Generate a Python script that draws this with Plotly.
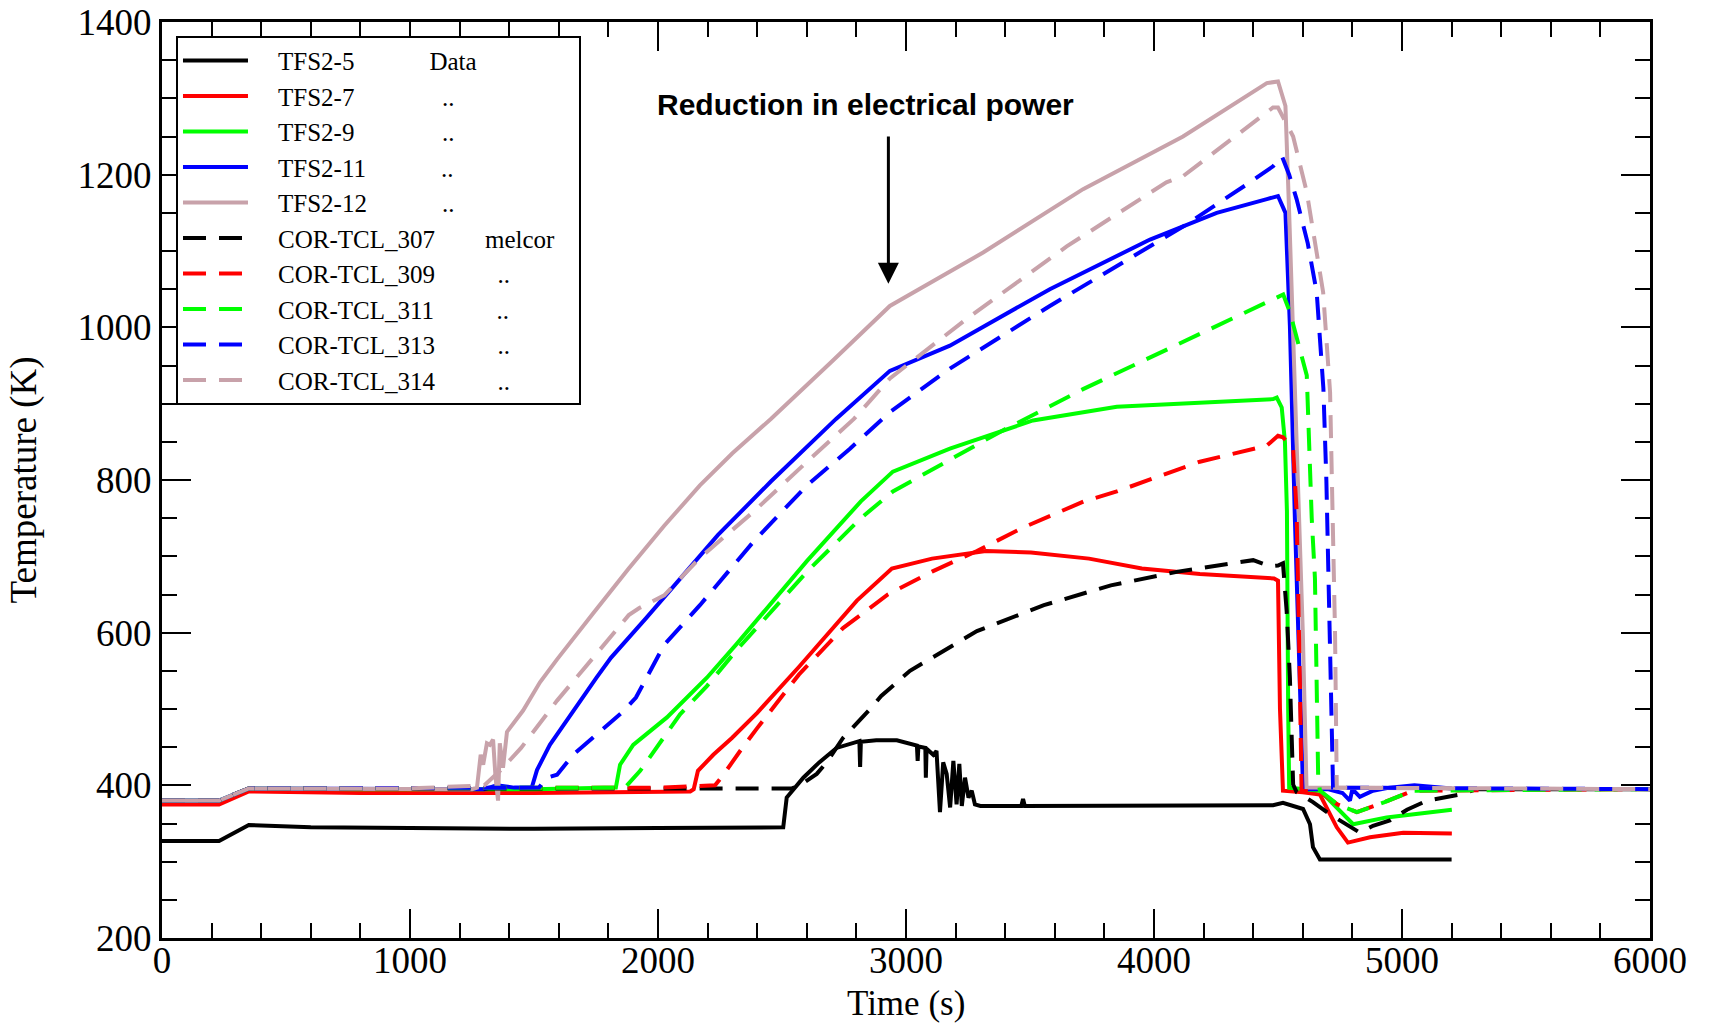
import plotly.graph_objects as go

# ---------------- data ----------------
t_tfs5 = [0, 230, 350, 600, 1000, 1500, 2000, 2505, 2519, 2586, 2650, 2720, 2812, 2815, 2818, 2880, 2963,
          3020, 3044, 3047, 3050, 3078, 3080, 3083, 3110, 3123, 3137, 3150, 3164, 3178, 3191, 3204, 3215,
          3225, 3238, 3252, 3265, 3278, 3300, 3465, 3472, 3479, 3800, 4200, 4480, 4520, 4580, 4601, 4629,
          4641, 4669, 5200]
T_tfs5 = [327, 327, 348, 345, 344, 343, 344, 345, 384, 410, 430, 449, 458, 424, 457, 459, 459,
          455, 452, 432, 451, 449, 410, 448, 440, 445, 365, 430, 415, 371, 432, 375, 428,
          373, 410, 384, 393, 375, 373, 373, 382, 373, 373, 373, 374, 377, 372, 369, 349,
          319, 303, 303]

t_tfs7 = [0, 230, 350, 800, 1500, 2130, 2144, 2161, 2223, 2298, 2400, 2568, 2802, 2943, 3105, 3322, 3504,
          3738, 3951, 4185, 4484, 4500, 4508, 4520, 4600, 4669, 4737, 4782, 4871, 5005, 5201]
T_tfs7 = [375, 375, 392, 390, 390, 392, 395, 419, 440, 462, 495, 555, 642, 684, 697, 707, 705,
          697, 684, 677, 671, 668, 500, 393, 391, 388, 345, 325, 332, 338, 337]

t_tfs9 = [0, 230, 350, 800, 1500, 1830, 1847, 1900, 2036, 2197, 2314, 2601, 2818, 2947, 3177, 3512, 3850,
          4253, 4480, 4495, 4515, 4528, 4536, 4541, 4545, 4669, 4803, 4938, 5201]
T_tfs9 = [380, 380, 396, 395, 395, 397, 427, 453, 489, 541, 584, 694, 772, 811, 841, 878, 896,
          903, 906, 908, 895, 850, 759, 500, 397, 393, 349, 358, 368]

t_tfs11 = [0, 230, 350, 800, 1300, 1350, 1420, 1491, 1512, 1564, 1658, 1752, 1810, 1952, 2242, 2455, 2718,
           2935, 3177, 3580, 3984, 4253, 4455, 4500, 4530, 4548, 4568, 4590, 4601, 4700, 4760, 4790, 4800,
           4830, 4883, 4950, 5050, 5200]
T_tfs11 = [380, 380, 396, 395, 395, 400, 397, 397, 420, 453, 498, 541, 567, 619, 728, 798, 880,
           943, 976, 1050, 1115, 1150, 1168, 1172, 1150, 1002, 750, 500, 395, 395, 390, 380, 395,
           385, 393, 397, 400, 396]

t_tfs12 = [0, 230, 350, 800, 1250, 1270, 1285, 1295, 1310, 1322, 1335, 1345, 1355, 1362, 1375, 1391, 1456,
           1524, 1593, 1738, 1882, 2025, 2169, 2300, 2455, 2700, 2935, 3311, 3714, 4117, 4455, 4500, 4530,
           4545, 4560, 4580, 4600, 4615, 5200]
T_tfs12 = [380, 380, 396, 395, 395, 397, 440, 427, 455, 453, 460, 410, 380, 455, 423, 470, 498,
           535, 565, 625, 684, 740, 793, 835, 880, 955, 1028, 1098, 1181, 1250, 1320, 1322, 1290,
           1150, 1000, 800, 600, 397, 396]

t_cor307 = [0, 230, 350, 1000, 2000, 2540, 2572, 2640, 2680, 2746, 2855, 2900, 3016, 3286, 3556, 3826, 4097,
            4367, 4400, 4467, 4500, 4520, 4535, 4548, 4561, 4575, 4641, 4710, 4758, 4830, 4883, 4951, 5020,
            5101, 5234, 5300, 6000]
T_cor307 = [380, 380, 396, 396, 396, 396, 400, 415, 430, 462, 500, 517, 550, 602, 636, 662, 680,
            693, 695, 687, 688, 691, 628, 541, 401, 391, 378, 362, 352, 338, 347, 354, 368,
            380, 388, 395, 395]

t_cor309 = [0, 230, 350, 1000, 2000, 2230, 2264, 2331, 2400, 2568, 2746, 2927, 3105, 3286, 3467, 3718, 3850,
            4185, 4455, 4500, 4520, 4561, 4575, 4588, 4595, 4669, 4740, 4818, 4930, 5044, 6000]
T_cor309 = [380, 380, 396, 396, 397, 400, 414, 445, 475, 545, 606, 650, 680, 707, 737, 772, 785,
            824, 845, 858, 856, 841, 759, 541, 393, 391, 375, 365, 378, 393, 395]

t_cor311 = [0, 230, 350, 1000, 1867, 1928, 1995, 2089, 2197, 2314, 2601, 2818, 2947, 3177, 3379, 3714, 4117,
            4427, 4521, 4548, 4616, 4636, 4649, 4662, 4669, 4740, 4818, 4930, 5044, 6000]
T_cor311 = [380, 380, 396, 396, 397, 419, 449, 493, 530, 576, 680, 750, 785, 826, 863, 919, 981,
            1028, 1043, 1020, 937, 750, 671, 410, 393, 375, 365, 378, 393, 395]

t_cor313 = [0, 230, 350, 1000, 1520, 1552, 1593, 1658, 1752, 1860, 1911, 1955, 2025, 2169, 2387, 2601, 2774,
            2935, 3177, 3580, 3984, 4117, 4387, 4480, 4516, 4545, 4575, 4620, 4656, 4683, 4695, 4705, 4715,
            4722, 6000]
T_cor313 = [380, 380, 396, 396, 397, 410, 414, 440, 466, 497, 515, 541, 584, 636, 720, 793, 841,
            889, 946, 1028, 1106, 1132, 1190, 1211, 1224, 1200, 1168, 1110, 1046, 920, 800, 650, 500,
            397, 395]

t_cor314 = [0, 230, 350, 1000, 1300, 1363, 1448, 1593, 1738, 1882, 1923, 2025, 2169, 2387, 2601, 2790, 2935,
            3244, 3648, 4000, 4050, 4117, 4480, 4500, 4561, 4616, 4682, 4710, 4722, 4730, 4737, 6000]
T_cor314 = [380, 380, 396, 396, 400, 419, 449, 511, 567, 623, 632, 649, 698, 759, 824, 880, 933,
            1011, 1106, 1180, 1190, 1198, 1288, 1288, 1250, 1177, 1046, 915, 750, 600, 397, 395]

NB = "\u00a0"
lead = NB * 4
names = [lead + "TFS2-5" + NB * 12 + "Data",
         lead + "TFS2-7" + NB * 14 + "..",
         lead + "TFS2-9" + NB * 14 + "..",
         lead + "TFS2-11" + NB * 12 + "..",
         lead + "TFS2-12" + NB * 12 + "..",
         lead + "COR-TCL_307" + NB * 8 + "melcor" + NB * 3,
         lead + "COR-TCL_309" + NB * 10 + "..",
         lead + "COR-TCL_311" + NB * 10 + "..",
         lead + "COR-TCL_313" + NB * 10 + "..",
         lead + "COR-TCL_314" + NB * 10 + ".."]

series_t = [t_tfs5, t_tfs7, t_tfs9, t_tfs11, t_tfs12, t_cor307, t_cor309, t_cor311, t_cor313, t_cor314]
series_T = [T_tfs5, T_tfs7, T_tfs9, T_tfs11, T_tfs12, T_cor307, T_cor309, T_cor311, T_cor313, T_cor314]
colors = ["#000000", "#FF0000", "#00FF00", "#0000FF", "#C8A2AA"] * 2
dashes = ["solid"] * 5 + ["23px,13px"] * 5

x_title = "Time (s)"
y_title = "Temperature (K)"
annotation_text = "Reduction in electrical power"
arrow_t, arrow_head_T, arrow_tail_T = 2929, 1057, 1252
text_t, text_T = 2835, 1292

# ---------------- figure ----------------
fig = go.Figure()
for tt, TT, nm, c, d in zip(series_t, series_T, names, colors, dashes):
    fig.add_trace(go.Scatter(x=tt, y=TT, mode="lines", name=nm,
                             line=dict(color=c, width=4, dash=d)))

serif = "Liberation Serif, Times New Roman, serif"

fig.add_annotation(x=text_t, y=text_T, xref="x", yref="y", text="<b>" + annotation_text + "</b>",
                   showarrow=False, font=dict(family="Liberation Sans, Arial, sans-serif", size=30,
                                              color="black"))
fig.add_annotation(x=arrow_t, y=arrow_head_T, ax=arrow_t, ay=arrow_tail_T, xref="x", yref="y",
                   axref="x", ayref="y", text="", showarrow=True, arrowhead=2, arrowsize=1.4,
                   arrowwidth=3, arrowcolor="black")
# x-axis title placed as paper annotation (fine control of its position)
fig.add_annotation(x=0.5, y=-0.094, xref="paper", yref="paper", text=x_title, showarrow=False,
                   xanchor="center", yanchor="bottom", borderpad=0,
                   font=dict(family=serif, size=35, color="black"))

axis_common = dict(showline=True, linewidth=3, linecolor="black", mirror="allticks",
                   ticks="inside", ticklen=29, tickwidth=2, tickcolor="black",
                   showgrid=False, zeroline=False, automargin=False,
                   tickfont=dict(family=serif, size=37, color="black"))

fig.update_xaxes(range=[0, 6000], dtick=1000, tick0=0, ticklabelstandoff=-12,
                 minor=dict(dtick=200, ticks="inside", ticklen=15, tickwidth=2, tickcolor="black",
                            showgrid=False),
                 **axis_common)
fig.update_yaxes(range=[200, 1400], dtick=200, tick0=200,
                 minor=dict(dtick=50, ticks="inside", ticklen=15, tickwidth=2, tickcolor="black",
                            showgrid=False),
                 title=dict(text=y_title, font=dict(family=serif, size=37, color="black"),
                            standoff=30),
                 **axis_common)

fig.update_layout(
    width=1709, height=1027, autosize=False,
    margin=dict(l=162, r=59, t=22, b=89),
    plot_bgcolor="white", paper_bgcolor="white",
    legend=dict(x=0.0094, y=0.985, xanchor="left", yanchor="top",
                bgcolor="white", bordercolor="black", borderwidth=2,
                font=dict(family=serif, size=25, color="black"),
                itemwidth=65, tracegroupgap=0, traceorder="normal"),
    showlegend=True,
)

fig.write_html("out.html")
